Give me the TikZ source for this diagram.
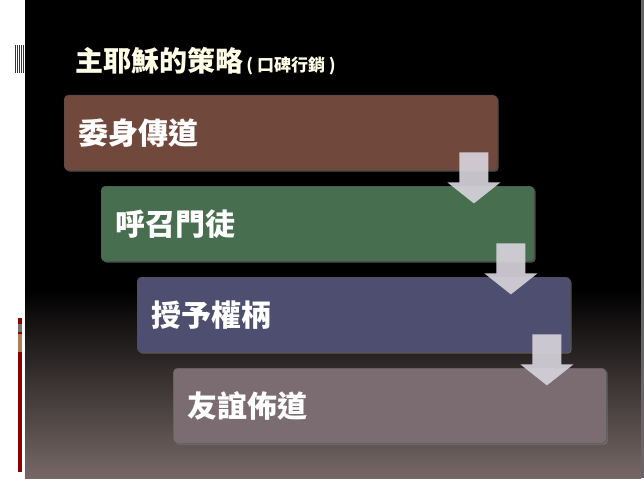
\documentclass[tikz,border=0pt]{standalone}
\usepackage{fontspec}
\setmainfont{Noto Sans CJK TC}
\usetikzlibrary{positioning,shadows}
\definecolor{boxbrown}{RGB}{112,72,60}
\definecolor{boxgreen}{RGB}{72,110,80}
\definecolor{boxblue}{RGB}{78,78,112}
\definecolor{boxgrey}{RGB}{122,108,112}
\definecolor{arrowgrey}{RGB}{214,210,218}
\definecolor{slidebottom}{RGB}{118,104,102}
\tikzset{
  stepbox/.style={draw=black!70,rounded corners=4pt,minimum width=433pt,minimum height=75pt,
    anchor=north west,text=white,font=\bfseries\fontsize{30}{32}\selectfont,text width=405pt,align=left,
    inner sep=0pt,drop shadow={opacity=0.6,shadow xshift=1.5pt,shadow yshift=-1.5pt}},
  downarrow/.style={fill=arrowgrey,opacity=0.92,draw=none}
}
\newcommand{\downarr}[1]{%
  \path[downarrow] ([shift={(-38,-18)}]#1.south east) -- ++(29,0) -- ++(0,30)
    -- ++(12,0) -- ++(-26.5,21) -- ++(-26.5,-21) -- ++(12,0) -- cycle;}
\begin{document}
\begin{tikzpicture}[x=1pt,y=1pt,yscale=-1]
		\useasboundingbox (0,0) rectangle (644,484);
		\fill[white] (0,0) rectangle (644,484);
		% slide background
		\fill[black] (25,0) rectangle (641,290);
		\shade[top color=black,bottom color=slidebottom] (25,290) rectangle (641,478);
		\fill[black!60] (641,0) rectangle (644,478);
		% left decorations
		\foreach \x in {15,17,19,21,23} \fill[black!80] (\x,45) rectangle ++(1,28);
		\fill[red!55!black] (18,318) rectangle (22,472);
		\fill[black!55] (18,324) rectangle (22,332);
		\fill[brown!60!gray] (18,334) rectangle (22,352);
		% title
		\node[anchor=base west,text=white!90!yellow,font=\bfseries\fontsize{28}{30}\selectfont] (title) at (72,72)
			{主耶穌的策略{\fontsize{17}{20}\selectfont\,( 口碑行銷 )}};
		% steps
		\node[stepbox,fill=boxbrown] (commit) at (64,95) {委身傳道};
		\node[stepbox,fill=boxgreen] (call) at (101,186) {呼召門徒};
		\node[stepbox,fill=boxblue] (empower) at (137,277) {授予權柄};
		\node[stepbox,fill=boxgrey] (friend) at (173,368) {友誼佈道};
		% arrows
		\downarr{commit}
		\downarr{call}
		\downarr{empower}
\end{tikzpicture}
\end{document}
